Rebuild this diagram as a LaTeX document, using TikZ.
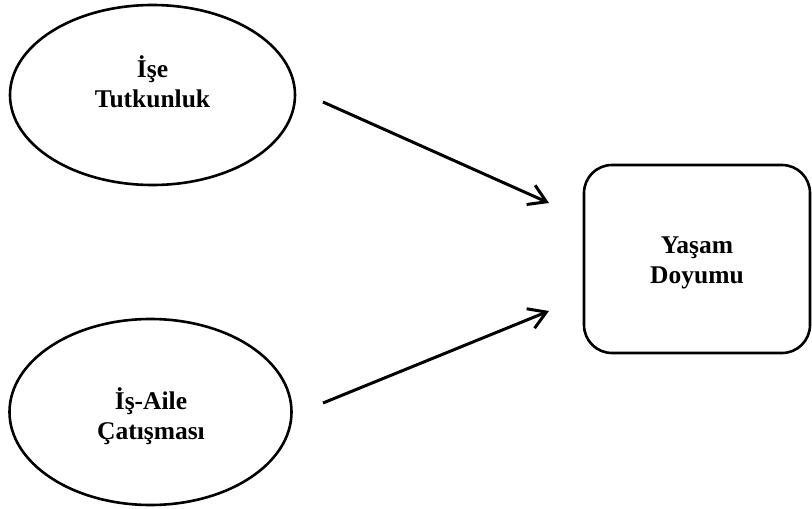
\documentclass[tikz,border=0pt]{standalone}
\usepackage{fontspec}
\setmainfont{Liberation Serif}
\usetikzlibrary{shapes.geometric,arrows.meta}
\begin{document}
\begin{tikzpicture}[x=1pt,y=-1pt,
  lbl/.style={font=\fontsize{25.5}{30}\selectfont\bfseries, align=center},
  oval/.style={draw, line width=2.6pt, ellipse, inner sep=0pt},
  roundbox/.style={draw, line width=2.6pt, rounded corners=28pt, inner sep=0pt},
  conn/.style={line width=3pt, -{Straight Barb[length=17pt,width=21pt,line width=3pt]}}]
\useasboundingbox (0,0) rectangle (812,509);
\node[oval, minimum width=285pt, minimum height=180pt] (e1) at (152.5,95) {};
\node[lbl] (t1) at (152.5,82) {İşe\\Tutkunluk};
\node[oval, minimum width=282pt, minimum height=186pt] (e2) at (150.5,412) {};
\node[lbl] (t2) at (151,416) {İş-Aile\\Çatışması};
\node[roundbox, minimum width=226pt, minimum height=188pt] (r) at (697,259) {};
\node[lbl] (t3) at (697,263) {Yaşam\\Doyumu};
\coordinate (a1s) at (323,102);
\coordinate (a1e) at (549,203);
\coordinate (a2s) at (323,403);
\coordinate (a2e) at (549,311);
\draw[conn] (a1s) -- (a1e);
\draw[conn] (a2s) -- (a2e);
\end{tikzpicture}
\end{document}
